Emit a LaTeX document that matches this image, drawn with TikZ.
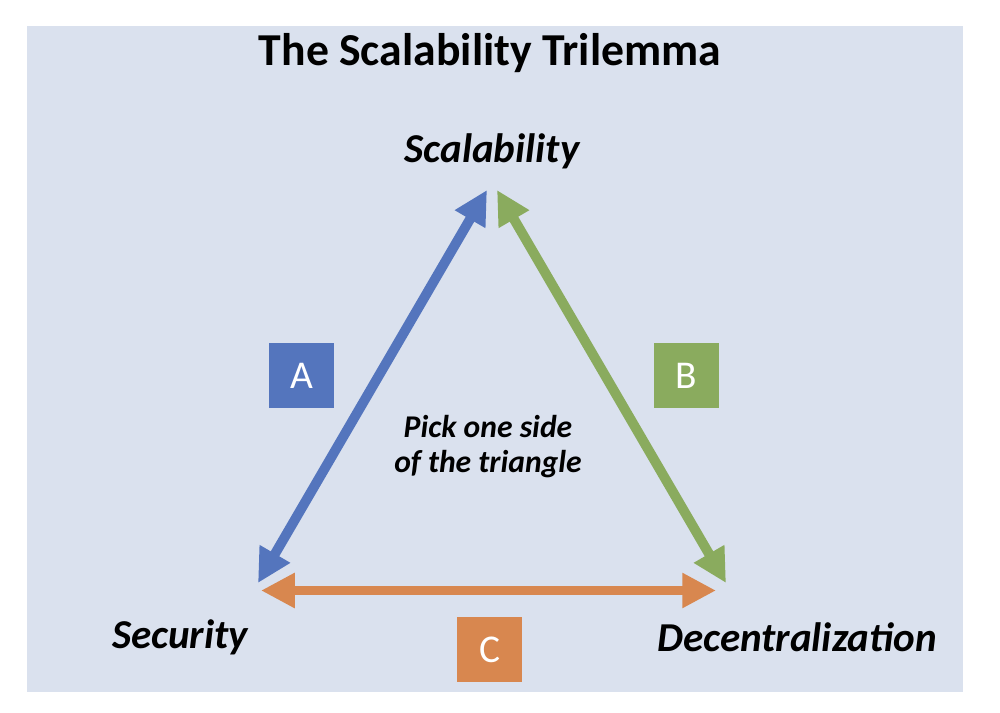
\documentclass[tikz,border=0pt]{standalone}
\usepackage{fontspec}
\setmainfont{Carlito}
\usetikzlibrary{arrows.meta}
\definecolor{bgc}{HTML}{DAE1EE}
\definecolor{bluec}{HTML}{5475BD}
\definecolor{greenc}{HTML}{8AAB5E}
\definecolor{orangec}{HTML}{D8874F}
\tikzset{
  px/.style={x=0.025cm,y=-0.025cm},
  sidearrow/.style={line width=7pt,{Triangle[length=24pt,width=23.5pt]}-{Triangle[length=24pt,width=23.5pt]}},
  letterbox/.style={minimum width=46pt,minimum height=46pt,inner sep=0pt,text=white,font=\fontsize{28}{30}\selectfont},
  cornerlabel/.style={font=\fontsize{29.2}{32}\selectfont\bfseries\itshape,anchor=base,inner sep=0pt},
}
\begin{document}
\begin{tikzpicture}[px]
\useasboundingbox (0,0) rectangle (1000,712);
\fill[white] (0,0) rectangle (1000,712);
\fill[bgc] (27,26) rectangle (963,692);
\node[font=\fontsize{32.5}{36}\selectfont\bfseries,anchor=base,inner sep=0pt] (title) at (490,65) {The Scalability Trilemma};
\node[cornerlabel] (scal) at (492,162) {Scalability};
\node[cornerlabel] (sec) at (180,648) {Security};
\node[cornerlabel] (dec) at (797,651) {Decentralization};
\node[font=\fontsize{22.5}{24.8}\selectfont\bfseries\itshape,align=center,inner sep=0pt,anchor=base] (pick) at (488,472) {Pick one side\\of the triangle};
\coordinate (atop) at (487,190);
\coordinate (abot) at (258,583);
\coordinate (btop) at (497,190);
\coordinate (bbot) at (726,583);
\coordinate (cl) at (261,590.5);
\coordinate (cr) at (716,590.5);
\draw[sidearrow,bluec] (abot) -- (atop);
\draw[sidearrow,greenc] (btop) -- (bbot);
\draw[sidearrow,orangec] (cl) -- (cr);
\node[letterbox,fill=bluec] (A) at (301.5,375.5) {A};
\node[letterbox,fill=greenc] (B) at (686.5,375.5) {B};
\node[letterbox,fill=orangec] (C) at (489.5,649.5) {C};
\end{tikzpicture}
\end{document}
